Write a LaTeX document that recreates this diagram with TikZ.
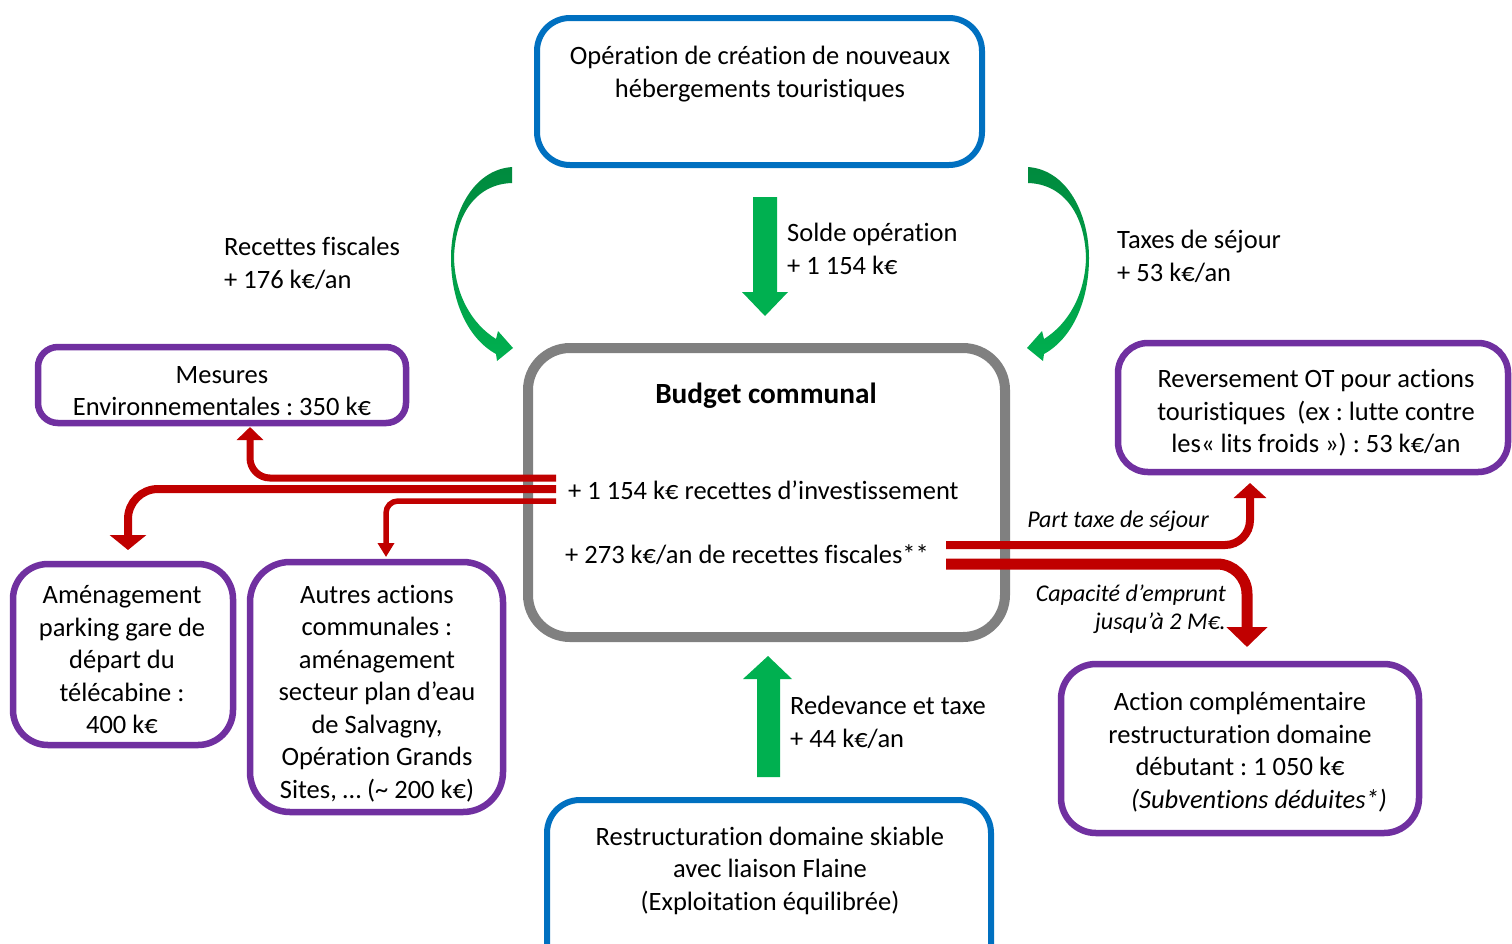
\documentclass[tikz,border=0pt]{standalone}
\usepackage{fontspec}
\setmainfont{Carlito}[Ligatures=NoCommon]
\frenchspacing
\usetikzlibrary{arrows.meta}
\definecolor{bluebox}{HTML}{0070C0}
\definecolor{purplebox}{HTML}{7030A0}
\definecolor{graybox}{HTML}{808080}
\definecolor{redarrow}{HTML}{C00000}
\definecolor{greenarrow}{HTML}{00B050}
\definecolor{greendark}{HTML}{008A3E}
\tikzset{
  txt/.style={font=\fontsize{26.5}{32.5}\selectfont, align=center, inner sep=0pt},
  itl/.style={font=\fontsize{24}{28}\selectfont\itshape, inner sep=0pt},
  bluebx/.style={draw=bluebox, line width=6pt, rounded corners=33pt, inner sep=0pt},
  purplebx/.style={draw=purplebox, line width=6.5pt, inner sep=0pt},
  graybx/.style={draw=graybox, line width=10pt, rounded corners=42pt, inner sep=0pt},
  redline/.style={draw=redarrow},
  greenfill/.style={fill=greenarrow},
}
\begin{document}
\begin{tikzpicture}[x=1pt,y=-1pt]
\fill[white] (0,0) rectangle (1512,943);
\useasboundingbox (0,0) rectangle (1512,943);

% blue boxes
\node[bluebx, minimum width=445pt, minimum height=147pt] (opbox) at (759.5,91.5) {};
\node[txt] (optxt) at (760,74) {Opération de création de nouveaux\\hébergements touristiques};
\node[bluebx, minimum width=444pt, minimum height=200pt] (skibox) at (769,900) {};
\node[txt] (skitxt) at (770,870.5) {Restructuration domaine skiable\\avec liaison Flaine\\(Exploitation équilibrée)};

% budget box
\node[graybx, minimum width=477pt, minimum height=289pt] (budget) at (766.5,492.5) {};
\node[txt, font=\fontsize{29.3}{34}\selectfont\bfseries] (budgettitle) at (766,396) {Budget communal};
\node[txt, anchor=west] (inv) at (568,490) {+ 1 154 k€ recettes d’investissement};
\node[txt, anchor=west] (fisc) at (565,555) {+ 273 k€/an de recettes fiscales**};

% purple boxes
\node[purplebx, rounded corners=20pt, minimum width=368pt, minimum height=76pt] (mesbox) at (222,385) {};
\node[txt] (mestxt) at (222,391) {Mesures\\Environnementales : 350 k€};
\node[purplebx, rounded corners=30pt, minimum width=390pt, minimum height=129pt] (revbox) at (1313,407.5) {};
\node[txt] (revtxt) at (1316,413) {Reversement OT pour actions\\touristiques\ \ (ex : lutte contre\\les« lits froids ») : 53 k€/an};
\node[purplebx, rounded corners=35pt, minimum width=220pt, minimum height=181pt] (amebox) at (123,654.5) {};
\node[txt] (ametxt) at (122,660) {Aménagement\\parking gare de\\départ du\\télécabine :\\400 k€};
\node[purplebx, rounded corners=40pt, minimum width=253pt, minimum height=250pt] (autbox) at (376.5,687) {};
\node[txt] (auttxt) at (377,693.5) {Autres actions\\communales :\\aménagement\\secteur plan d’eau\\de Salvagny,\\Opération Grands\\Sites, … (\textasciitilde{} 200 k€)};
\node[purplebx, rounded corners=35pt, minimum width=358pt, minimum height=169pt] (actbox) at (1240,748.5) {};
\node[txt] (acttxt) at (1240,752) {Action complémentaire\\restructuration domaine\\débutant : 1 050 k€\\\hspace*{38pt}\textit{(Subventions déduites*)}};

% green straight arrows
\fill[greenfill] (753,197) -- (777,197) -- (777,292) -- (788,292) -- (765,316) -- (742,292) -- (753,292) -- cycle;
\fill[greenfill] (757,777) -- (780,777) -- (780,679) -- (792,679) -- (768,656) -- (743,679) -- (757,679) -- cycle;
\node[txt, align=left, anchor=west] (solde) at (787,249) {Solde opération\\+ 1 154 k€};
\node[txt, align=left, anchor=west] (redev) at (790,722.5) {Redevance et taxe\\+ 44 k€/an};

% curved green arrows
\shade[top color=greendark, bottom color=greenarrow]
  (512,167) .. controls (472,170) and (451,215) .. (451,258)
  .. controls (451,300) and (467,338) .. (496,354)
  -- (497,361) -- (513,348) -- (498,331) -- (496,339)
  .. controls (472,324) and (455,295) .. (454,258)
  .. controls (455,215) and (476,184) .. (512,183) -- cycle;
\begin{scope}[xshift=1540pt, xscale=-1]
\shade[top color=greendark, bottom color=greenarrow]
  (512,167) .. controls (472,170) and (451,215) .. (451,258)
  .. controls (451,300) and (467,338) .. (496,354)
  -- (497,361) -- (513,348) -- (498,331) -- (496,339)
  .. controls (472,324) and (455,295) .. (454,258)
  .. controls (455,215) and (476,184) .. (512,183) -- cycle;
\end{scope}
\node[txt, align=left, anchor=west] (recf) at (224,263.5) {Recettes fiscales\\+ 176 k€/an};
\node[txt, align=left, anchor=west] (taxes) at (1117,256.5) {Taxes de séjour\\+ 53 k€/an};

% red arrows left
\coordinate (l1s) at (556,478); \coordinate (l1e) at (250,427);
\coordinate (l2s) at (556,489); \coordinate (l2e) at (128,550);
\coordinate (l3s) at (556,501); \coordinate (l3e) at (386,557);
\draw[redline, line width=7pt, rounded corners=20pt, -{Triangle[width=26pt,length=13pt]}] (l1s) -| (l1e);
\draw[redline, line width=8pt, rounded corners=30pt, -{Triangle[width=36pt,length=15pt]}] (l2s) -| (l2e);
\draw[redline, line width=5.5pt, rounded corners=12pt, -{Triangle[width=16pt,length=14pt]}] (l3s) -| (l3e);

% red arrows right
\coordinate (r1s) at (946,545); \coordinate (r1e) at (1250,483);
\coordinate (r2s) at (946,564); \coordinate (r2e) at (1247,647);
\draw[redline, line width=8pt, rounded corners=25pt, -{Triangle[width=32pt,length=15pt]}] (r1s) -| (r1e);
\draw[redline, line width=11pt, rounded corners=30pt, -{Triangle[width=40pt,length=20pt]}] (r2s) -| (r2e);
\node[itl] (parttxt) at (1118,521) {Part taxe de séjour};
\node[itl, align=right, anchor=east] (captxt) at (1226,609.5) {Capacité d’emprunt\\jusqu’à 2 M€.};
\end{tikzpicture}
\end{document}
